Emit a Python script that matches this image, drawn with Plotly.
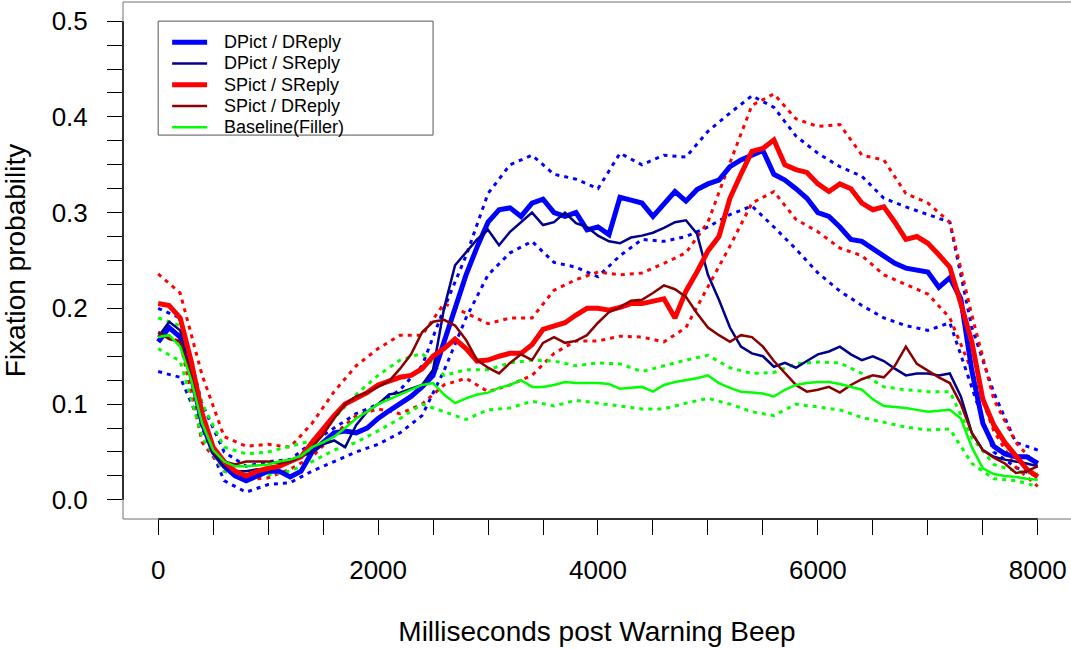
import plotly.graph_objects as go

# Time grids (ms after the warning beep)
time_fine = list(range(0, 8001, 100))
time_band = list(range(0, 8001, 200))

# Mean fixation probability per condition (100 ms steps)
dpict_dreply = [
    0.165, 0.18, 0.17, 0.13, 0.08, 0.05, 0.035, 0.025, 0.02, 0.025,
    0.03, 0.03, 0.024, 0.03, 0.05, 0.06, 0.07, 0.072, 0.07, 0.075,
    0.085, 0.093, 0.10, 0.108, 0.118, 0.13, 0.165, 0.20, 0.235, 0.264,
    0.29, 0.303, 0.305, 0.296, 0.31, 0.314, 0.30, 0.296, 0.30, 0.282,
    0.285, 0.277, 0.316, 0.313, 0.31, 0.296, 0.31, 0.322, 0.312, 0.324,
    0.33, 0.334, 0.348, 0.355, 0.36, 0.365, 0.34, 0.334, 0.325, 0.315,
    0.30, 0.296, 0.285, 0.272, 0.27, 0.262, 0.255, 0.247, 0.242, 0.24,
    0.238, 0.222, 0.232, 0.21, 0.135, 0.08, 0.056, 0.048, 0.045, 0.045,
    0.038]
dpict_sreply = [
    0.17, 0.186, 0.177, 0.135, 0.08, 0.05, 0.035, 0.03, 0.03, 0.032,
    0.03, 0.035, 0.04, 0.045, 0.05, 0.058, 0.062, 0.055, 0.078, 0.092,
    0.10, 0.11, 0.112, 0.116, 0.12, 0.136, 0.20, 0.245, 0.259, 0.272,
    0.282, 0.266, 0.28, 0.29, 0.30, 0.287, 0.29, 0.30, 0.289, 0.285,
    0.276, 0.27, 0.268, 0.274, 0.276, 0.279, 0.284, 0.29, 0.292, 0.278,
    0.235, 0.209, 0.18, 0.16, 0.153, 0.15, 0.139, 0.143, 0.138, 0.145,
    0.152, 0.155, 0.16, 0.152, 0.146, 0.15, 0.145, 0.137, 0.13, 0.132,
    0.132, 0.13, 0.132, 0.108, 0.07, 0.052, 0.045, 0.042, 0.04, 0.038,
    0.035]
spict_sreply = [
    0.205, 0.203, 0.19, 0.145, 0.09, 0.055, 0.04, 0.03, 0.025, 0.03,
    0.033, 0.035, 0.04, 0.045, 0.06, 0.075, 0.088, 0.10, 0.106, 0.112,
    0.12, 0.124, 0.128, 0.13, 0.137, 0.15, 0.158, 0.168, 0.158, 0.145,
    0.146, 0.15, 0.153, 0.153, 0.162, 0.178, 0.181, 0.185, 0.193, 0.20,
    0.20, 0.198, 0.201, 0.205, 0.205, 0.207, 0.21, 0.19, 0.218, 0.238,
    0.26, 0.275, 0.315, 0.34, 0.364, 0.367, 0.376, 0.35, 0.345, 0.342,
    0.33, 0.322, 0.33, 0.325, 0.31, 0.303, 0.306, 0.29, 0.272, 0.275,
    0.268, 0.256, 0.243, 0.205, 0.165, 0.105, 0.078, 0.06, 0.045, 0.032,
    0.024]
spict_dreply = [
    0.175, 0.168, 0.165, 0.13, 0.08, 0.05, 0.04, 0.037, 0.04, 0.04,
    0.04, 0.038, 0.04, 0.045, 0.055, 0.068, 0.085, 0.10, 0.108, 0.112,
    0.118, 0.124, 0.137, 0.152, 0.175, 0.186, 0.188, 0.182, 0.167, 0.146,
    0.138, 0.132, 0.143, 0.152, 0.146, 0.164, 0.17, 0.164, 0.166, 0.172,
    0.185, 0.196, 0.201, 0.208, 0.209, 0.216, 0.224, 0.22, 0.212, 0.195,
    0.18, 0.172, 0.165, 0.172, 0.17, 0.16, 0.145, 0.132, 0.12, 0.113,
    0.115, 0.118, 0.112, 0.12, 0.126, 0.13, 0.128, 0.14, 0.16, 0.142,
    0.135, 0.128, 0.122, 0.10, 0.07, 0.052, 0.044, 0.038, 0.028, 0.03,
    0.035]
baseline = [
    0.17, 0.172, 0.16, 0.125, 0.08, 0.052, 0.04, 0.035, 0.035, 0.036,
    0.037, 0.04, 0.042, 0.046, 0.055, 0.06, 0.066, 0.075, 0.085, 0.092,
    0.10, 0.105, 0.11, 0.115, 0.12, 0.122, 0.11, 0.101, 0.106, 0.11,
    0.112, 0.117, 0.12, 0.125, 0.118, 0.118, 0.12, 0.123, 0.122, 0.122,
    0.122, 0.121, 0.116, 0.117, 0.118, 0.113, 0.12, 0.123, 0.125, 0.127,
    0.13, 0.122, 0.117, 0.113, 0.112, 0.111, 0.108, 0.115, 0.12, 0.122,
    0.123, 0.123, 0.121, 0.118, 0.115, 0.105, 0.098, 0.097, 0.096, 0.094,
    0.092, 0.093, 0.094, 0.085, 0.055, 0.033, 0.027, 0.025, 0.024, 0.022,
    0.021]

# Confidence bands (200 ms steps)
dd_upper = [
    0.20, 0.19, 0.10, 0.05, 0.035, 0.04, 0.042, 0.06, 0.075, 0.09,
    0.10, 0.115, 0.14, 0.20, 0.255, 0.32, 0.35, 0.36, 0.34, 0.335,
    0.325, 0.362, 0.35, 0.36, 0.358, 0.385, 0.404, 0.422, 0.41, 0.38,
    0.362, 0.348, 0.338, 0.315, 0.306, 0.298, 0.29, 0.18, 0.112, 0.06,
    0.052]
dd_lower = [
    0.134, 0.128, 0.075, 0.02, 0.008, 0.016, 0.018, 0.03, 0.04, 0.05,
    0.058, 0.07, 0.088, 0.135, 0.19, 0.235, 0.258, 0.27, 0.248, 0.243,
    0.233, 0.255, 0.272, 0.27, 0.275, 0.285, 0.298, 0.307, 0.285, 0.262,
    0.237, 0.218, 0.203, 0.19, 0.182, 0.177, 0.185, 0.118, 0.05, 0.034,
    0.024]
ss_upper = [
    0.236, 0.216, 0.13, 0.066, 0.056, 0.058, 0.055, 0.08, 0.113, 0.14,
    0.158, 0.172, 0.172, 0.205, 0.195, 0.184, 0.19, 0.19, 0.219, 0.23,
    0.238, 0.235, 0.237, 0.247, 0.258, 0.29, 0.352, 0.412, 0.424, 0.398,
    0.39, 0.392, 0.36, 0.355, 0.32, 0.31, 0.29, 0.193, 0.105, 0.06,
    0.035]
ss_lower = [
    0.175, 0.165, 0.06, 0.03, 0.021, 0.023, 0.032, 0.045, 0.068, 0.088,
    0.095, 0.09, 0.10, 0.12, 0.127, 0.113, 0.12, 0.13, 0.153, 0.166,
    0.166, 0.171, 0.17, 0.165, 0.18, 0.222, 0.265, 0.31, 0.322, 0.293,
    0.28, 0.263, 0.255, 0.235, 0.225, 0.215, 0.19, 0.135, 0.072, 0.034,
    0.014]
base_upper = [
    0.19, 0.182, 0.10, 0.055, 0.048, 0.05, 0.056, 0.062, 0.085, 0.11,
    0.13, 0.146, 0.153, 0.13, 0.136, 0.136, 0.143, 0.146, 0.145, 0.14,
    0.143, 0.142, 0.134, 0.14, 0.146, 0.151, 0.138, 0.132, 0.133, 0.142,
    0.144, 0.143, 0.132, 0.118, 0.115, 0.113, 0.113, 0.065, 0.037, 0.03,
    0.027]
base_lower = [
    0.158, 0.145, 0.065, 0.03, 0.025, 0.026, 0.03, 0.04, 0.052, 0.06,
    0.072, 0.085, 0.10, 0.092, 0.084, 0.094, 0.096, 0.103, 0.098, 0.104,
    0.101, 0.098, 0.095, 0.095, 0.101, 0.106, 0.10, 0.092, 0.088, 0.10,
    0.097, 0.094, 0.086, 0.081, 0.076, 0.073, 0.074, 0.038, 0.022, 0.02,
    0.014]

# Axis ticks
x_tick_vals = list(range(0, 8001, 500))
x_tick_text = ["0", "", "", "", "2000", "", "", "", "4000", "", "", "",
               "6000", "", "", "", "8000"]
y_tick_vals = [i * 0.025 for i in range(21)]
y_tick_text = ["0.0", "", "", "", "0.1", "", "", "", "0.2", "", "", "",
               "0.3", "", "", "", "0.4", "", "", "", "0.5"]

FONT = "Liberation Sans, Arial, Helvetica, sans-serif"

fig = go.Figure()

bands = [
    (dd_upper, "#0000FF"), (dd_lower, "#0000FF"),
    (ss_upper, "#FF0000"), (ss_lower, "#FF0000"),
    (base_upper, "#00FF00"), (base_lower, "#00FF00"),
]
for vals, col in bands:
    fig.add_trace(go.Scatter(
        x=time_band, y=vals, mode="lines",
        line=dict(color=col, width=3, dash="4px,5px"),
        showlegend=False, hoverinfo="skip"))

series = [
    ("DPict / DReply", dpict_dreply, "#0000FF", 5),
    ("DPict / SReply", dpict_sreply, "#00008B", 2.5),
    ("SPict / SReply", spict_sreply, "#FF0000", 5),
    ("SPict / DReply", spict_dreply, "#8B0000", 2.5),
    ("Baseline(Filler)", baseline, "#00FF00", 2.5),
]
for name, vals, col, w in series:
    fig.add_trace(go.Scatter(
        x=time_fine, y=vals, mode="lines", name=name,
        line=dict(color=col, width=w), showlegend=False))

shapes = []
annotations = []

# Legend box placed in data coordinates (top-left at x=0, y=0.5)
shapes.append(dict(type="rect", xref="x", yref="y", x0=0, x1=2500,
                   y0=0.381, y1=0.5, line=dict(color="#555555", width=1)))
for i, (name, _, col, w) in enumerate(series):
    yy = 0.478 - i * 0.0222
    shapes.append(dict(type="line", xref="x", yref="y", x0=127, x1=445,
                       y0=yy, y1=yy, line=dict(color=col, width=w)))
    annotations.append(dict(x=582, y=yy, xref="x", yref="y", text=name,
                            showarrow=False, xanchor="left", yanchor="middle",
                            font=dict(family=FONT, size=18, color="black")))

# Plot frame (right side runs past the page edge) and axis lines
shapes.append(dict(type="rect", xref="paper", yref="paper", x0=0, x1=1.005,
                   y0=0, y1=1, line=dict(color="#707070", width=1)))
shapes.append(dict(type="line", xref="x", yref="paper", x0=0, x1=8000,
                   y0=0, y1=0, line=dict(color="black", width=1.5)))
shapes.append(dict(type="line", xref="paper", yref="y", x0=0, x1=0,
                   y0=0, y1=0.5, line=dict(color="black", width=1.5)))

fig.update_layout(
    width=1071, height=649,
    margin=dict(l=123, r=0, t=2, b=130),
    paper_bgcolor="white", plot_bgcolor="white",
    font=dict(family=FONT, color="black"),
    shapes=shapes, annotations=annotations,
    xaxis=dict(
        range=[-320, 8302], tickmode="array",
        tickvals=x_tick_vals, ticktext=x_tick_text,
        ticks="outside", ticklen=15, tickwidth=1, tickcolor="black",
        showgrid=False, zeroline=False, showline=False,
        tickfont=dict(size=26), ticklabelstandoff=13,
        title=dict(text="Milliseconds post Warning Beep",
                   font=dict(size=28), standoff=37),
    ),
    yaxis=dict(
        range=[-0.02, 0.52], tickmode="array",
        tickvals=y_tick_vals, ticktext=y_tick_text,
        ticks="outside", ticklen=15, tickwidth=1, tickcolor="black",
        showgrid=False, zeroline=False, showline=False,
        tickfont=dict(size=26), ticklabelstandoff=14,
        title=dict(text="Fixation probability",
                   font=dict(size=28), standoff=24),
    ),
)

fig.write_html("out.html")
